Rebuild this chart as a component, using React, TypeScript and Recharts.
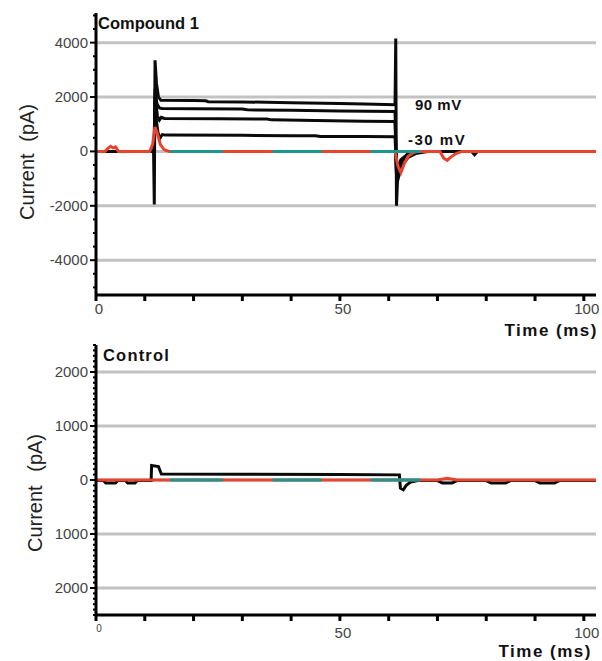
import React from 'react';
import { LineChart, Line, XAxis, YAxis, CartesianGrid } from 'recharts';

// ---------- shared ----------
const xTicks = [0, 10, 20, 30, 40, 50, 60, 70, 80, 90, 100];
const xLabels = [0, 50, 100];
const tealStarts = [15.2, 36.2, 56.3];
const tealEnds = [26.0, 46.3, 66.5];

// ---------- top panel: Compound 1 ----------
const topMajor = [-4000, -2000, 0, 2000, 4000];
const topMinor = [-5000, -4500, -4000, -3500, -3000, -2500, -2000, -1500, -1000, -500, 0, 500, 1000, 1500, 2000, 2500, 3000, 3500, 4000, 4500, 5000];

const t90 = [0, 11.8, 11.95, 12.1, 12.4, 12.8, 13.3, 20, 22.5, 23, 30, 40, 50, 55, 61.3, 61.45, 61.6, 61.8, 62.3, 63, 64, 65.5, 68, 102.5];
const v90 = [0, 0, -1950, 3350, 2500, 2000, 1880, 1870, 1860, 1830, 1820, 1790, 1760, 1740, 1720, 4150, -2000, -1100, -750, -450, -220, -80, 0, 0];

const t2 = [0, 11.9, 12.1, 12.5, 13.0, 13.5, 20, 30, 31, 40, 50, 61.3, 61.6, 62.5, 64, 66];
const v2 = [0, 0, 2300, 1750, 1600, 1580, 1570, 1560, 1530, 1510, 1490, 1470, -900, -400, -100, 0];

const t3 = [0, 11.9, 12.1, 12.6, 13.0, 13.4, 14.0, 25, 35, 36, 45, 55, 61.3, 61.6, 62.5, 64, 66];
const v3 = [0, 0, 2000, 1300, 1150, 1250, 1210, 1200, 1190, 1160, 1140, 1110, 1100, -800, -350, -100, 0];

const t4 = [0, 11.9, 12.1, 12.7, 13.1, 13.6, 14.2, 30, 40, 45, 46, 55, 61.3, 61.6, 62.5, 64, 66, 77, 77.6, 78.2, 102.5];
const v4 = [0, 0, 1500, 700, 480, 620, 600, 590, 580, 575, 550, 545, 540, -700, -300, -80, 0, 0, -120, 0, 0];

const tRedTop = [0, 1.8, 2.5, 3.0, 3.5, 4.0, 4.6, 11.0, 11.6, 12.1, 12.6, 13.2, 14.0, 15.0, 61.3, 61.9, 62.5, 63.2, 64.0, 65.0, 66.0, 70.5, 71.3, 72.0, 72.8, 73.8, 75, 102.5];
const vRedTop = [0, 0, 120, 190, 130, 170, 0, 0, 250, 900, 650, 250, 60, 0, 0, -550, -780, -450, -180, -50, 0, 0, -250, -330, -200, -80, 0, 0];

// ---------- bottom panel: Control ----------
const botMajor = [-2000, -1000, 0, 1000, 2000];
const botMinor = [-2500, -2400, -2300, -2200, -2100, -2000, -1900, -1800, -1700, -1600, -1500, -1400, -1300, -1200, -1100, -1000, -900, -800, -700, -600, -500, -400, -300, -200, -100, 0, 100, 200, 300, 400, 500, 600, 700, 800, 900, 1000, 1100, 1200, 1300, 1400, 1500, 1600, 1700, 1800, 1900, 2000, 2100, 2200, 2300, 2400, 2500];

const tCtl = [0, 1.5, 2, 4, 4.5, 6, 6.5, 8, 8.5, 11.3, 11.4, 12.8, 13.4, 30, 50, 62.2, 62.4, 63.0, 63.6, 64.5, 66, 70, 71, 73, 74, 80, 81, 84, 85, 90, 91, 94, 95, 102.5];
const vCtl = [-10, -10, -55, -55, -10, -10, -55, -55, -10, -10, 270, 250, 110, 105, 100, 95, -150, -180, -100, -40, -10, -10, -55, -55, -10, -10, -55, -55, -10, -10, -55, -55, -10, -10];

const tRedCtl = [0, 20, 40, 60, 70, 72, 74, 102.5];
const vRedCtl = [0, 0, 0, 0, 0, 30, 0, 0];

// ---------- helpers ----------
const zip = (ts: number[], vs: number[]) => ts.map((t, i) => ({ t, v: vs[i] }));
const tealData = tealStarts.map((s, i) => [
  { t: s, v: 0 },
  { t: tealEnds[i], v: 0 },
]);

const FONT = 'Liberation Sans, Arial, sans-serif';
const BLACK = '#0a0a0a';
const RED = '#e8432e';
const TEAL = '#1d9690';
const GRID = '#c2c2c2';

const makeXTick = (small0: boolean) => (props: any) => {
  const { x, y, payload } = props;
  const v = payload.value;
  const show = xLabels.includes(v);
  const tiny = small0 && v === 0;
  const fs = tiny ? 10 : 15;
  return (
    <g>
      <line x1={x} x2={x} y1={y} y2={y + 6} stroke="#000" strokeWidth={3} />
      {show && (
        <text x={x + 3} y={y + (tiny ? 17 : small0 ? 23 : 19)} textAnchor="middle" fontFamily={FONT} fontSize={fs} fill="#444">
          {v}
        </text>
      )}
    </g>
  );
};

const makeYTick = (majors: number[], absLabel: boolean) => (props: any) => {
  const { x, y, payload } = props;
  const v = payload.value;
  const major = majors.includes(v);
  return (
    <g>
      <line x1={x - (major ? 6 : 3)} x2={x} y1={y} y2={y} stroke="#000" strokeWidth={2} />
      {major && (
        <text x={x - 8} y={y + 5} textAnchor="end" fontFamily={FONT} fontSize={15} fill="#444">
          {absLabel ? Math.abs(v) : v}
        </text>
      )}
    </g>
  );
};

const lineProps = {
  dataKey: 'v',
  dot: false,
  activeDot: false,
  isAnimationActive: false,
  strokeWidth: 3,
  type: 'linear' as const,
  connectNulls: false,
};

export default function App() {
  return (
    <div style={{ position: 'absolute', left: 0, top: 0, width: 602, height: 661, background: '#fff' }}>
      <svg width={602} height={661} style={{ position: 'absolute', left: 0, top: 0 }}>
        <text x={98} y={29} fontFamily={FONT} fontWeight="bold" fontSize={16.5} fill="#111">Compound 1</text>
        <text x={103} y={361} fontFamily={FONT} fontWeight="bold" fontSize={16.5} letterSpacing={1.2} fill="#111">Control</text>
        <text x={415} y={110} fontFamily={FONT} fontWeight="bold" fontSize={15} letterSpacing={0.5} fill="#111">90 mV</text>
        <text x={408} y={145} fontFamily={FONT} fontWeight="bold" fontSize={15} letterSpacing={1.5} fill="#111">-30 mV</text>
        <text x={598} y={336} textAnchor="end" fontFamily={FONT} fontWeight="bold" fontSize={17} letterSpacing={1.5} fill="#111">Time (ms)</text>
        <text x={592} y={657} textAnchor="end" fontFamily={FONT} fontWeight="bold" fontSize={17} letterSpacing={1.5} fill="#111">Time (ms)</text>
        <text transform="translate(34,162) rotate(-90)" textAnchor="middle" fontFamily={FONT} fontSize={20} wordSpacing={6} fill="#222">Current (pA)</text>
        <text transform="translate(42,493) rotate(-90)" textAnchor="middle" fontFamily={FONT} fontSize={20} wordSpacing={8} fill="#222">Current (pA)</text>
      </svg>

      <div style={{ position: 'absolute', left: 0, top: 0 }}>
        <LineChart width={602} height={335} margin={{ top: 13, right: 6, left: 0, bottom: 0 }}>
          <CartesianGrid vertical={false} horizontalValues={topMajor} stroke={GRID} strokeWidth={3} />
          <XAxis
            type="number"
            dataKey="t"
            domain={[0, 102.5]}
            ticks={xTicks}
            interval={0}
            tickSize={0}
            tickMargin={0}
            height={40}
            allowDataOverflow
            axisLine={{ stroke: '#000', strokeWidth: 3 }}
            tick={makeXTick(false)}
          />
          <YAxis
            type="number"
            domain={[-5280, 5090]}
            ticks={topMinor}
            interval={0}
            tickSize={0}
            tickMargin={0}
            width={96}
            allowDataOverflow
            axisLine={{ stroke: '#000', strokeWidth: 3 }}
            tick={makeYTick(topMajor, false)}
          />
          <Line {...lineProps} data={zip(t4, v4)} stroke={BLACK} />
          <Line {...lineProps} data={zip(t3, v3)} stroke={BLACK} />
          <Line {...lineProps} data={zip(t2, v2)} stroke={BLACK} />
          <Line {...lineProps} data={zip(t90, v90)} stroke={BLACK} />
          <Line {...lineProps} data={zip(tRedTop, vRedTop)} stroke={RED} />
          {tealData.map((d, i) => (
            <Line key={'tt' + i} {...lineProps} data={d} stroke={TEAL} />
          ))}
        </LineChart>
      </div>

      <div style={{ position: 'absolute', left: 0, top: 330 }}>
        <LineChart width={602} height={331} margin={{ top: 15, right: 6, left: 0, bottom: 0 }}>
          <CartesianGrid vertical={false} horizontalValues={botMajor} stroke={GRID} strokeWidth={3} />
          <XAxis
            type="number"
            dataKey="t"
            domain={[0, 102.5]}
            ticks={xTicks}
            interval={0}
            tickSize={0}
            tickMargin={0}
            height={46}
            allowDataOverflow
            axisLine={{ stroke: '#000', strokeWidth: 3 }}
            tick={makeXTick(true)}
          />
          <YAxis
            type="number"
            domain={[-2500, 2500]}
            ticks={botMinor}
            interval={0}
            tickSize={0}
            tickMargin={0}
            width={96}
            allowDataOverflow
            axisLine={{ stroke: '#000', strokeWidth: 3 }}
            tick={makeYTick(botMajor, true)}
          />
          <Line {...lineProps} data={zip(tCtl, vCtl)} stroke={BLACK} />
          <Line {...lineProps} data={zip(tRedCtl, vRedCtl)} stroke={RED} />
          {tealData.map((d, i) => (
            <Line key={'tb' + i} {...lineProps} data={d} stroke={TEAL} />
          ))}
        </LineChart>
      </div>
    </div>
  );
}
